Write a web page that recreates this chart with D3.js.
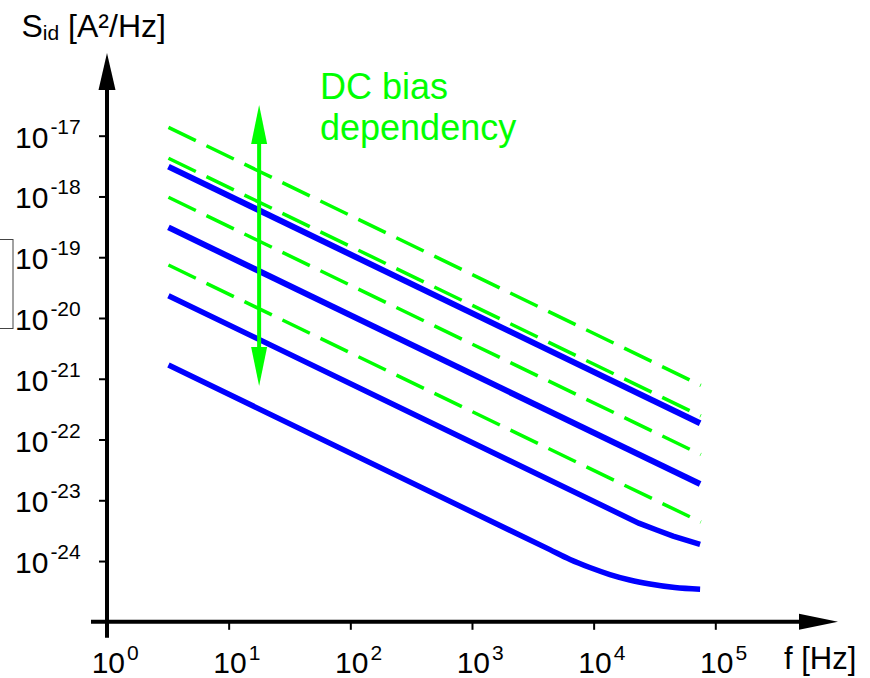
<!DOCTYPE html>
<html>
<head>
<meta charset="utf-8">
<script src="https://cdn.jsdelivr.net/npm/d3@7"></script>
<style>
  html, body { margin: 0; padding: 0; background: #fff; }
  svg { display: block; font-family: "Liberation Sans", Arial, Helvetica, sans-serif; }
</style>
</head>
<body>
<svg id="chart" width="870" height="678"></svg>
<script>
// Axis ticks (decades) and their exponent labels
const freqTicks = [1e0, 1e1, 1e2, 1e3, 1e4, 1e5];
const freqTickExponents = ["0", "1", "2", "3", "4", "5"];
const sidTicks = [1e-17, 1e-18, 1e-19, 1e-20, 1e-21, 1e-22, 1e-23, 1e-24];
const sidTickExponents = ["-17", "-18", "-19", "-20", "-21", "-22", "-23", "-24"];

// Noise spectra [f (Hz), S_id (A²/Hz)] — solid curves
const solidCurve1 = [[3.2, 3.1e-18], [7.5e4, 1.85e-22]];
const solidCurve2 = [[3.2, 3.1e-19], [7.5e4, 1.85e-23]];
const solidCurve3 = [[3.2, 2.33e-20], [2.35e4, 4.2e-24], [3.3e4, 3.24e-24], [4.5e4, 2.58e-24], [7.5e4, 1.88e-24]];
const solidCurve4 = [[3.2, 1.68e-21], [4.37e3, 1.54e-24], [6.4e3, 1.06e-24], [9.3e3, 7.82e-25], [1.36e4, 6.0e-25],
                     [1.98e4, 4.88e-25], [2.9e4, 4.19e-25], [4.65e4, 3.66e-25], [7.5e4, 3.43e-25]];

// Noise spectra under other DC bias — dashed curves
const dashedCurve1 = [[3.2, 1.37e-17], [7.6e4, 7.8e-22]];
const dashedCurve2 = [[3.2, 4.25e-18], [7.6e4, 2.44e-22]];
const dashedCurve3 = [[3.2, 9.7e-19], [7.6e4, 5.64e-23]];
const dashedCurve4 = [[3.2, 7.45e-20], [7.6e4, 4.38e-24]];

// Bias-dependency arrow: frequency and S_id span
const biasArrowF = 17.8;
const biasArrowSpan = [3.2e-17, 7.6e-22];

const solidCurves = [solidCurve1, solidCurve2, solidCurve3, solidCurve4];
const solidWidths = [6, 6, 5.5, 5.5];
const dashedCurves = [dashedCurve1, dashedCurve2, dashedCurve3, dashedCurve4];

const BLUE = "#0000ff";
const GREEN = "#00ff00";

const svg = d3.select("#chart");

const x = d3.scaleLog().domain([1, 1e5]).range([107, 715.3]);
const y = d3.scaleLog().domain([1e-25, 1e-17]).range([621.8, 135.7]);

const x0 = x(1);          // vertical axis position
const yBase = y(1e-25);   // horizontal axis position

// Small box at the left edge
svg.append("rect")
  .attr("x", -5).attr("y", 239.5).attr("width", 18).attr("height", 89)
  .attr("fill", "none").attr("stroke", "#444").attr("stroke-width", 1);

// Ticks via d3 axes (domain path removed, axis lines drawn separately with arrows)
const xAxis = svg.append("g")
  .attr("transform", `translate(0,${yBase})`)
  .call(d3.axisBottom(x).tickValues(freqTicks).tickSize(8).tickFormat(""));
xAxis.select(".domain").remove();
xAxis.selectAll(".tick line").attr("stroke", "#000").attr("stroke-width", 2);

const yAxis = svg.append("g")
  .attr("transform", `translate(${x0},0)`)
  .call(d3.axisLeft(y).tickValues(sidTicks).tickSize(8).tickFormat(""));
yAxis.select(".domain").remove();
yAxis.selectAll(".tick line").attr("stroke", "#000").attr("stroke-width", 2);

// Axis lines with arrowheads
svg.append("line")
  .attr("x1", x0 - 16).attr("x2", 800).attr("y1", yBase).attr("y2", yBase)
  .attr("stroke", "#000").attr("stroke-width", 4);
svg.append("path")
  .attr("d", `M799,${yBase - 8}L838,${yBase}L799,${yBase + 8}Z`)
  .attr("fill", "#000");
svg.append("line")
  .attr("x1", x0).attr("x2", x0).attr("y1", yBase + 16).attr("y2", 90)
  .attr("stroke", "#000").attr("stroke-width", 4);
svg.append("path")
  .attr("d", `M${x0 - 8.5},90L${x0},53L${x0 + 8.5},90Z`)
  .attr("fill", "#000");

// Tick labels: 10 with superscript exponent
freqTicks.forEach((f, i) => {
  const t = svg.append("text")
    .attr("x", x(f) - 15.3).attr("y", 673)
    .attr("fill", "#000").attr("font-size", 30);
  t.append("tspan").text("10");
  t.append("tspan").attr("dx", 2).attr("dy", -13).attr("font-size", 21).text(freqTickExponents[i]);
});
sidTicks.forEach((s, i) => {
  const t = svg.append("text")
    .attr("x", 15).attr("y", y(s) + 12)
    .attr("fill", "#000").attr("font-size", 30);
  t.append("tspan").text("10");
  t.append("tspan").attr("dx", 2).attr("dy", -14).attr("font-size", 21).text(sidTickExponents[i]);
});

// Axis titles
const yTitle = svg.append("text")
  .attr("x", 21.5).attr("y", 37).attr("fill", "#000").attr("font-size", 32);
yTitle.append("tspan").text("S");
yTitle.append("tspan").attr("dy", 3).attr("font-size", 21).text("id");
yTitle.append("tspan").attr("dy", -3).text(" [A²/Hz]");

svg.append("text")
  .attr("x", 784).attr("y", 669).attr("fill", "#000").attr("font-size", 31)
  .text("f [Hz]");

// Curves: straight segments, smoothed where the spectrum flattens
const lineLinear = d3.line()
  .x(d => x(d[0]))
  .y(d => y(d[1]));
const lineSmooth = d3.line()
  .x(d => x(d[0]))
  .y(d => y(d[1]))
  .curve(d3.curveMonotoneX);

svg.append("g").selectAll("path")
  .data(dashedCurves)
  .join("path")
  .attr("d", lineLinear)
  .attr("fill", "none")
  .attr("stroke", GREEN)
  .attr("stroke-width", 3.5)
  .attr("stroke-dasharray", "30.4,11.8");

svg.append("g").selectAll("path")
  .data(solidCurves)
  .join("path")
  .attr("d", (d, i) => (i === 3 ? lineSmooth(d) : lineLinear(d)))
  .attr("fill", "none")
  .attr("stroke", BLUE)
  .attr("stroke-width", (d, i) => solidWidths[i]);

// Double-headed bias arrow
const ax = x(biasArrowF);
const aTop = y(biasArrowSpan[0]);
const aBot = y(biasArrowSpan[1]);
const head = 39;
svg.append("line")
  .attr("x1", ax).attr("x2", ax).attr("y1", aTop + head - 2).attr("y2", aBot - head + 2)
  .attr("stroke", GREEN).attr("stroke-width", 4);
svg.append("path")
  .attr("d", `M${ax - 8},${aTop + head}L${ax},${aTop}L${ax + 8},${aTop + head}Z`)
  .attr("fill", GREEN);
svg.append("path")
  .attr("d", `M${ax - 8},${aBot - head}L${ax},${aBot}L${ax + 8},${aBot - head}Z`)
  .attr("fill", GREEN);

// Annotation text
svg.append("text")
  .attr("x", 320).attr("y", 99).attr("fill", GREEN).attr("font-size", 36)
  .text("DC bias");
svg.append("text")
  .attr("x", 320).attr("y", 139.5).attr("fill", GREEN).attr("font-size", 36)
  .text("dependency");
</script>
</body>
</html>
